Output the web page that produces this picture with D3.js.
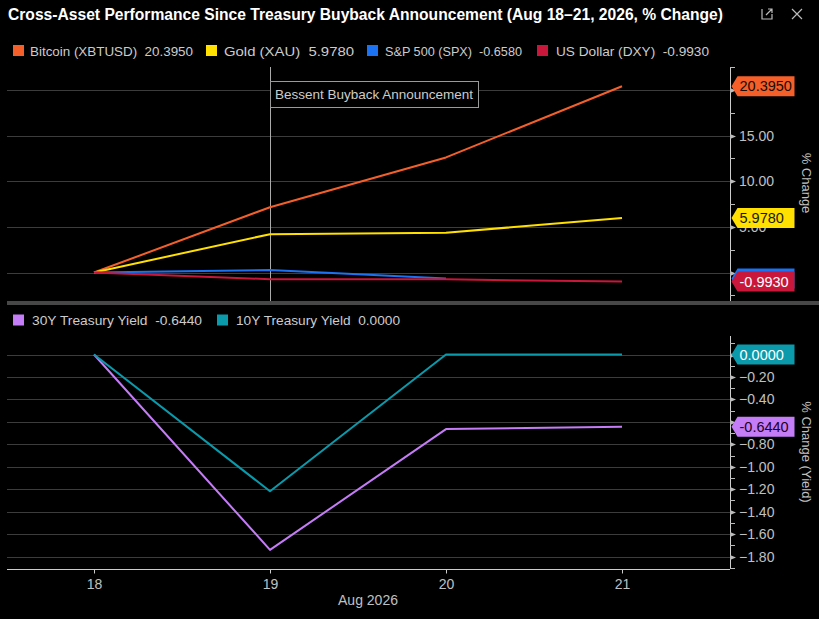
<!DOCTYPE html>
<html><head><meta charset="utf-8">
<script src="https://cdn.jsdelivr.net/npm/d3@7/dist/d3.min.js"></script>
<style>
html,body{margin:0;padding:0;background:#000;}
svg{display:block;}
text{font-family:"Liberation Sans Narrow","Liberation Sans",Arial,sans-serif;}
</style></head>
<body>
<svg id="chart" width="819" height="619"></svg>
<script>
// ---- data ----
const days = [18, 19, 20, 21];
const dayLabels = ["18", "19", "20", "21"];
const bitcoin = [0, 7.15, 12.6, 20.395];
const gold = [0, 4.2, 4.35, 5.978];
const spx = [0, 0.28, -0.658];
const dxy = [0, -0.73, -0.75, -0.993];
const ust30 = [0, -1.74, -0.664, -0.644];
const ust10 = [0, -1.218, 0, 0];
const topTicks = [0, 5, 10, 15, 20];
const bottomTicks = [0, -0.2, -0.4, -0.6, -0.8, -1.0, -1.2, -1.4, -1.6, -1.8];
const announceDay = 19;

const topSeries = [
  {name:"Bitcoin (XBTUSD)", values:bitcoin, last:"20.3950", color:"#f5602a", txt:"#1a0a00", show:true},
  {name:"Gold (XAU)", values:gold, last:"5.9780", color:"#ffe000", txt:"#1a1a00", show:true},
  {name:"S&P 500 (SPX)", values:spx, last:"-0.6580", color:"#1b72f2", txt:"#ffffff", show:false},
  {name:"US Dollar (DXY)", values:dxy, last:"-0.9930", color:"#c8173a", txt:"#ffffff", show:true}
];
const botSeries = [
  {name:"30Y Treasury Yield", values:ust30, last:"-0.6440", color:"#c57cf7", txt:"#1a0020", show:true},
  {name:"10Y Treasury Yield", values:ust10, last:"0.0000", color:"#0a9aab", txt:"#ffffff", show:true}
];

const svg = d3.select("#chart");
const L = 7, R = 730;
const x = d3.scaleLinear().domain([18, 21]).range([94, 622]);
const yTop = d3.scaleLinear().domain([-2.9, 22.5]).range([299, 67]);
const yBot = d3.scaleLinear().domain([0.165, -1.906]).range([336, 568.5]);

// title
svg.append("text").attr("x", 8).attr("y", 20).attr("fill", "#ffffff")
  .attr("font-size", 16).attr("font-weight", "bold")
  .attr("textLength", 715).attr("lengthAdjust", "spacingAndGlyphs")
  .text("Cross-Asset Performance Since Treasury Buyback Announcement (Aug 18–21, 2026, % Change)");

// icons
const ic = svg.append("g").attr("stroke", "#bbbbbb").attr("fill", "none").attr("stroke-width", 1.2);
ic.append("path").attr("d", "M762,9 L762,19 L772,19 L772,14 M766,15 L772,9 M768,9 L772,9 L772,13");
ic.append("path").attr("d", "M792,9 L802,19 M802,9 L792,19");

// legend helper
function legend(series, y, pos) {
  series.forEach((s, i) => {
    const p = pos[i];
    svg.append("rect").attr("x", p[0]).attr("y", y - 6).attr("width", 11).attr("height", 11).attr("fill", s.color);
    svg.append("text").attr("x", p[1]).attr("y", y + 4.5).attr("fill", "#cccccc").attr("font-size", 13.5)
      .attr("textLength", p[2]).attr("lengthAdjust", "spacingAndGlyphs")
      .attr("xml:space", "preserve")
      .text(s.name + "  " + s.last);
  });
}
legend(topSeries, 51, [[13, 30, 163], [206, 224, 130], [367, 385, 137], [537, 556, 153]]);
legend(botSeries, 320.5, [[13, 32, 170], [217, 236, 164]]);

// separator
svg.append("rect").attr("x", L).attr("y", 301).attr("width", 819 - L).attr("height", 4).attr("fill", "#474747");

// gridlines
svg.append("g").selectAll("line").data(topTicks).join("line")
  .attr("x1", L).attr("x2", R).attr("y1", d => Math.round(yTop(d)) + 0.5).attr("y2", d => Math.round(yTop(d)) + 0.5)
  .attr("stroke", "#3c3c3c").attr("stroke-width", 1);
svg.append("g").selectAll("line").data(bottomTicks).join("line")
  .attr("x1", L).attr("x2", R).attr("y1", d => Math.round(yBot(d)) + 0.5).attr("y2", d => Math.round(yBot(d)) + 0.5)
  .attr("stroke", "#3c3c3c").attr("stroke-width", 1);

// announcement line
svg.append("line").attr("x1", x(announceDay) + 0.5).attr("x2", x(announceDay) + 0.5)
  .attr("y1", 67).attr("y2", 301).attr("stroke", "#aaaaaa").attr("stroke-width", 1);
svg.append("rect").attr("x", x(announceDay) + 0.5).attr("y", 81.5).attr("width", 208).attr("height", 26)
  .attr("fill", "#000").attr("stroke", "#9a9a9a").attr("stroke-width", 1);
svg.append("text").attr("x", x(announceDay) + 5).attr("y", 99).attr("fill", "#cccccc").attr("font-size", 13.5)
  .attr("textLength", 198).attr("lengthAdjust", "spacingAndGlyphs")
  .text("Bessent Buyback Announcement");

// lines
function drawLines(series, y) {
  series.forEach(s => {
    const line = d3.line().x((d, i) => x(days[i])).y(d => y(d));
    svg.append("path").datum(s.values).attr("d", line).attr("fill", "none")
      .attr("stroke", s.color).attr("stroke-width", 2).attr("stroke-linejoin", "round");
  });
}
drawLines(topSeries, yTop);
drawLines(botSeries, yBot);

// right axes (labels hidden beneath value flags are not drawn, as in the reference)
function rightAxis(y, majors, minorStep, hidden, y0, y1) {
  const g = svg.append("g");
  g.append("line").attr("x1", R + 0.5).attr("x2", R + 0.5).attr("y1", y0).attr("y2", y1).attr("stroke", "#cccccc");
  const [d0, d1] = y.domain();
  const lo = Math.min(d0, d1), hi = Math.max(d0, d1);
  const minors = d3.range(Math.ceil(lo / minorStep - 1e-9), Math.floor(hi / minorStep + 1e-9) + 1).map(k => k * minorStep);
  g.selectAll(".mn").data(minors).join("line")
    .attr("x1", R).attr("x2", R + 5).attr("y1", d => Math.round(y(d)) + 0.5).attr("y2", d => Math.round(y(d)) + 0.5)
    .attr("stroke", "#bbbbbb");
  g.selectAll(".mj").data(majors).join("path")
    .attr("d", d => { const yy = Math.round(y(d)) + 0.5; return `M${R},${yy - 2.5}L${R + 6},${yy}L${R},${yy + 2.5}Z`; })
    .attr("fill", "#bbbbbb");
  g.selectAll("text").data(majors.filter(d => !hidden.includes(d))).join("text")
    .attr("x", 739).attr("y", d => y(d) + 5).attr("fill", "#c0c0c0").attr("font-size", 14)
    .text(d => d3.format(".2f")(d));
}
rightAxis(yTop, topTicks, 2.5, [0, 20], 67, 301);
rightAxis(yBot, bottomTicks, 0.1, [0, -0.6], 336, 569);

// bottom x axis
svg.append("line").attr("x1", L).attr("x2", R).attr("y1", 569.5).attr("y2", 569.5).attr("stroke", "#cccccc");
const xa = svg.append("g").attr("transform", "translate(0,569.5)")
  .call(d3.axisBottom(x).tickValues(days).tickFormat((d, i) => dayLabels[i]).tickSize(4).tickPadding(6));
xa.select(".domain").remove();
xa.selectAll("line").attr("stroke", "#cccccc");
xa.selectAll("text").attr("fill", "#c0c0c0").attr("font-size", 14)
  .attr("font-family", "'Liberation Sans Narrow','Liberation Sans',Arial,sans-serif");
svg.append("text").attr("x", 368).attr("y", 605).attr("text-anchor", "middle").attr("fill", "#c0c0c0")
  .attr("font-size", 14).text("Aug 2026");

// value flags
function flags(series, y) {
  series.forEach(s => {
    const yc = y(s.values[s.values.length - 1]);
    const x0 = 731.5, w = 63, h = 20;
    svg.append("path").attr("d", `M${x0},${yc}L${x0 + 6},${yc - h / 2}L${x0 + w},${yc - h / 2}L${x0 + w},${yc + h / 2}L${x0 + 6},${yc + h / 2}Z`)
      .attr("fill", s.color);
    if (s.show) {
      svg.append("text").attr("x", x0 + 8).attr("y", yc + 5).attr("fill", s.txt).attr("font-size", 14.5)
        .text(s.last);
    }
  });
}
flags(topSeries, yTop);
flags(botSeries, yBot);

// axis titles
svg.append("text").attr("transform", "translate(802,183) rotate(90)").attr("text-anchor", "middle")
  .attr("fill", "#c0c0c0").attr("font-size", 13).text("% Change");
svg.append("text").attr("transform", "translate(802,452) rotate(90)").attr("text-anchor", "middle")
  .attr("fill", "#c0c0c0").attr("font-size", 13).text("% Change (Yield)");
</script>
</body></html>
